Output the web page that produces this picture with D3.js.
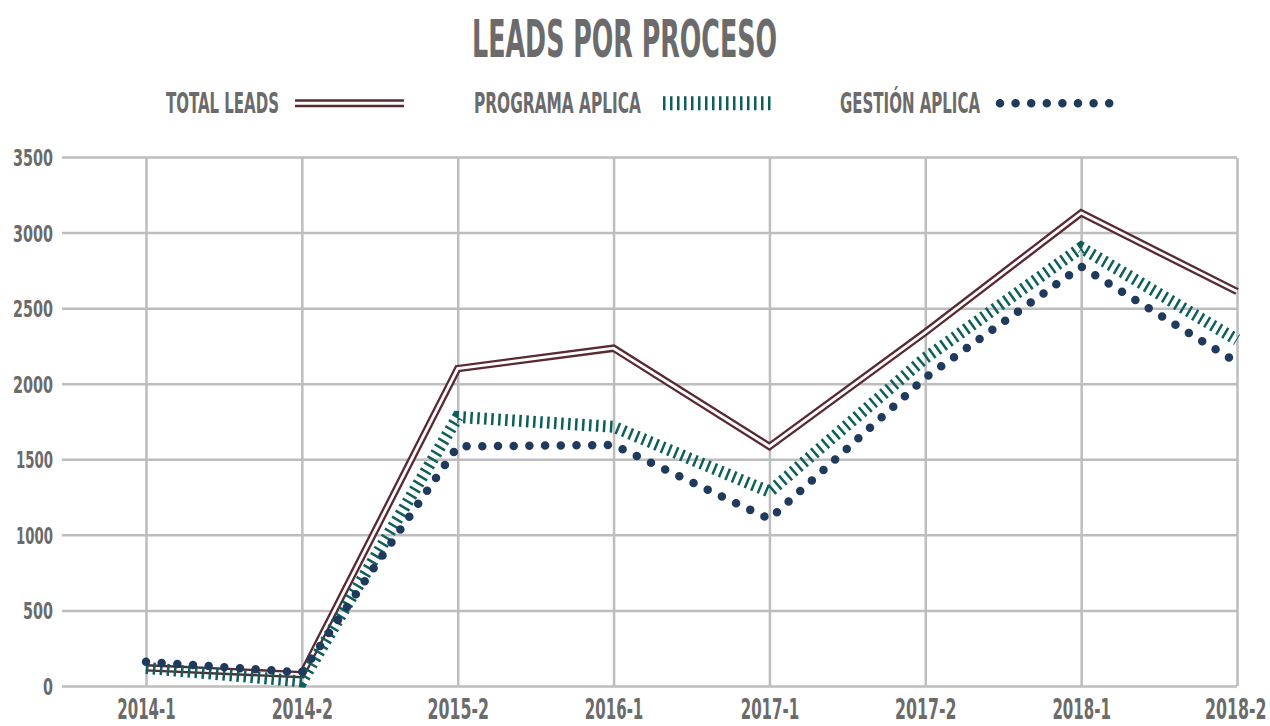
<!DOCTYPE html>
<html>
<head>
<meta charset="utf-8">
<script src="https://cdn.jsdelivr.net/npm/d3@7"></script>
<style>
  body { margin: 0; background: #fff; }
  text { font-family: 'DejaVu Sans Condensed', 'Liberation Sans Narrow', sans-serif; font-weight: bold; fill: #6b6b6b; }
</style>
</head>
<body>
<div id="chart"></div>
<script>
// data
var periods = ['2014-1', '2014-2', '2015-2', '2016-1', '2017-1', '2017-2', '2018-1', '2018-2'];
var totalLeads = [120, 75, 2100, 2235, 1585, 2340, 3130, 2610];
var programaAplica = [120, 30, 1780, 1715, 1285, 2170, 2900, 2290];
var gestionAplica = [160, 90, 1585, 1595, 1105, 2040, 2775, 2140];
var yTicks = [0, 500, 1000, 1500, 2000, 2500, 3000, 3500];

var width = 1270, height = 726;
var gridColor = '#bdbdbd';

var svg = d3.select('#chart').append('svg')
    .attr('width', width)
    .attr('height', height);

var x = d3.scalePoint().domain(periods).range([146, 1237]);
var y = d3.scaleLinear().domain([0, 3500]).range([686, 157]);

// rough width of condensed display digits
function textW(s, dig, one, dash) {
    var w = 0;
    for (var i = 0; i < s.length; i++) {
        var c = s[i];
        w += c === '1' ? one : (c === '-' ? dash : dig);
    }
    return w;
}

// title
svg.append('text')
    .attr('x', 624.5).attr('y', 57)
    .attr('text-anchor', 'middle')
    .style('font-size', '52px')
    .attr('textLength', 305)
    .attr('lengthAdjust', 'spacingAndGlyphs')
    .text('LEADS POR PROCESO');

// horizontal grid + y labels
var yAxis = svg.append('g')
    .attr('transform', 'translate(62,0)')
    .call(d3.axisLeft(y).tickValues(yTicks).tickSize(-(1237 - 62)).tickPadding(9).tickFormat(d3.format('d')));
yAxis.select('.domain').remove();
yAxis.selectAll('.tick line').attr('stroke', gridColor).attr('stroke-width', 2.5);
yAxis.selectAll('.tick text')
    .attr('fill', '#6b6b6b')
    .style('font-size', '23.5px')
    .attr('dy', '0.36em')
    .attr('textLength', function (d) { return textW(String(d), 10, 7, 6); })
    .attr('lengthAdjust', 'spacingAndGlyphs');

// vertical grid + x labels
var xAxis = svg.append('g')
    .attr('transform', 'translate(0,686)')
    .call(d3.axisBottom(x).tickSize(-(686 - 158)).tickPadding(0));
xAxis.select('.domain').remove();
xAxis.selectAll('.tick line').attr('stroke', gridColor).attr('stroke-width', 2.5);
var last = periods[periods.length - 1];
xAxis.selectAll('.tick text')
    .attr('fill', '#6b6b6b')
    .attr('x', 0).attr('y', 0).attr('dy', 0)
    .style('font-size', '29px')
    .attr('text-anchor', function (d) { return d === last ? 'end' : 'middle'; })
    .attr('transform', function (d) {
        // squeeze to the narrow look of the original font
        var sx = textW(d, 11.5, 8.5, 7) / this.getComputedTextLength();
        var dx = d === last ? 1266 - x(d) : 0;
        return 'translate(' + dx + ',33) scale(' + sx + ',1)';
    });

// lines
function lineFor(vals) {
    return d3.line()
        .x(function (d, i) { return x(periods[i]); })
        .y(function (d) { return y(d); })(vals);
}

var plot = svg.append('g').attr('fill', 'none');

// total leads: double line
plot.append('path').attr('d', lineFor(totalLeads))
    .attr('stroke', '#5a2a33').attr('stroke-width', 7.5).attr('stroke-linejoin', 'miter');
plot.append('path').attr('d', lineFor(totalLeads))
    .attr('stroke', '#fff').attr('stroke-width', 2.8).attr('stroke-linejoin', 'miter');

// programa aplica: hatched
plot.append('path').attr('d', lineFor(programaAplica))
    .attr('stroke', '#0d5f5c').attr('stroke-width', 12)
    .attr('stroke-dasharray', '2.5,4.5');

// gestion aplica: dots
plot.append('path').attr('d', lineFor(gestionAplica))
    .attr('stroke', '#1f3a5c').attr('stroke-width', 8.5)
    .attr('stroke-linecap', 'round')
    .attr('stroke-dasharray', '0,15.7');

// legend
var legendData = [
    { label: 'TOTAL LEADS', tx: 166, tw: 113, x0: 295, x1: 404, kind: 'double' },
    { label: 'PROGRAMA APLICA', tx: 474, tw: 167, x0: 663, x1: 773, kind: 'hatch' },
    { label: 'GESTIÓN APLICA', tx: 840, tw: 140, x0: 1000, x1: 1110, kind: 'dots' }
];
var legend = svg.append('g').attr('class', 'legend');
legendData.forEach(function (d) {
    legend.append('text')
        .attr('x', d.tx).attr('y', 113)
        .style('font-size', '28px')
        .attr('textLength', d.tw)
        .attr('lengthAdjust', 'spacingAndGlyphs')
        .text(d.label);
    var ly = 103.3;
    if (d.kind === 'double') {
        legend.append('line').attr('x1', d.x0).attr('x2', d.x1).attr('y1', ly).attr('y2', ly)
            .attr('stroke', '#5a2a33').attr('stroke-width', 8);
        legend.append('line').attr('x1', d.x0).attr('x2', d.x1).attr('y1', ly).attr('y2', ly)
            .attr('stroke', '#fff').attr('stroke-width', 3);
    } else if (d.kind === 'hatch') {
        legend.append('line').attr('x1', d.x0).attr('x2', d.x1).attr('y1', ly).attr('y2', ly)
            .attr('stroke', '#0d5f5c').attr('stroke-width', 14)
            .attr('stroke-dasharray', '2.5,4.5');
    } else {
        legend.append('line').attr('x1', d.x0).attr('x2', d.x1).attr('y1', ly).attr('y2', ly)
            .attr('stroke', '#1f3a5c').attr('stroke-width', 8.5)
            .attr('stroke-linecap', 'round')
            .attr('stroke-dasharray', '0,15.6');
    }
});
</script>
</body>
</html>
